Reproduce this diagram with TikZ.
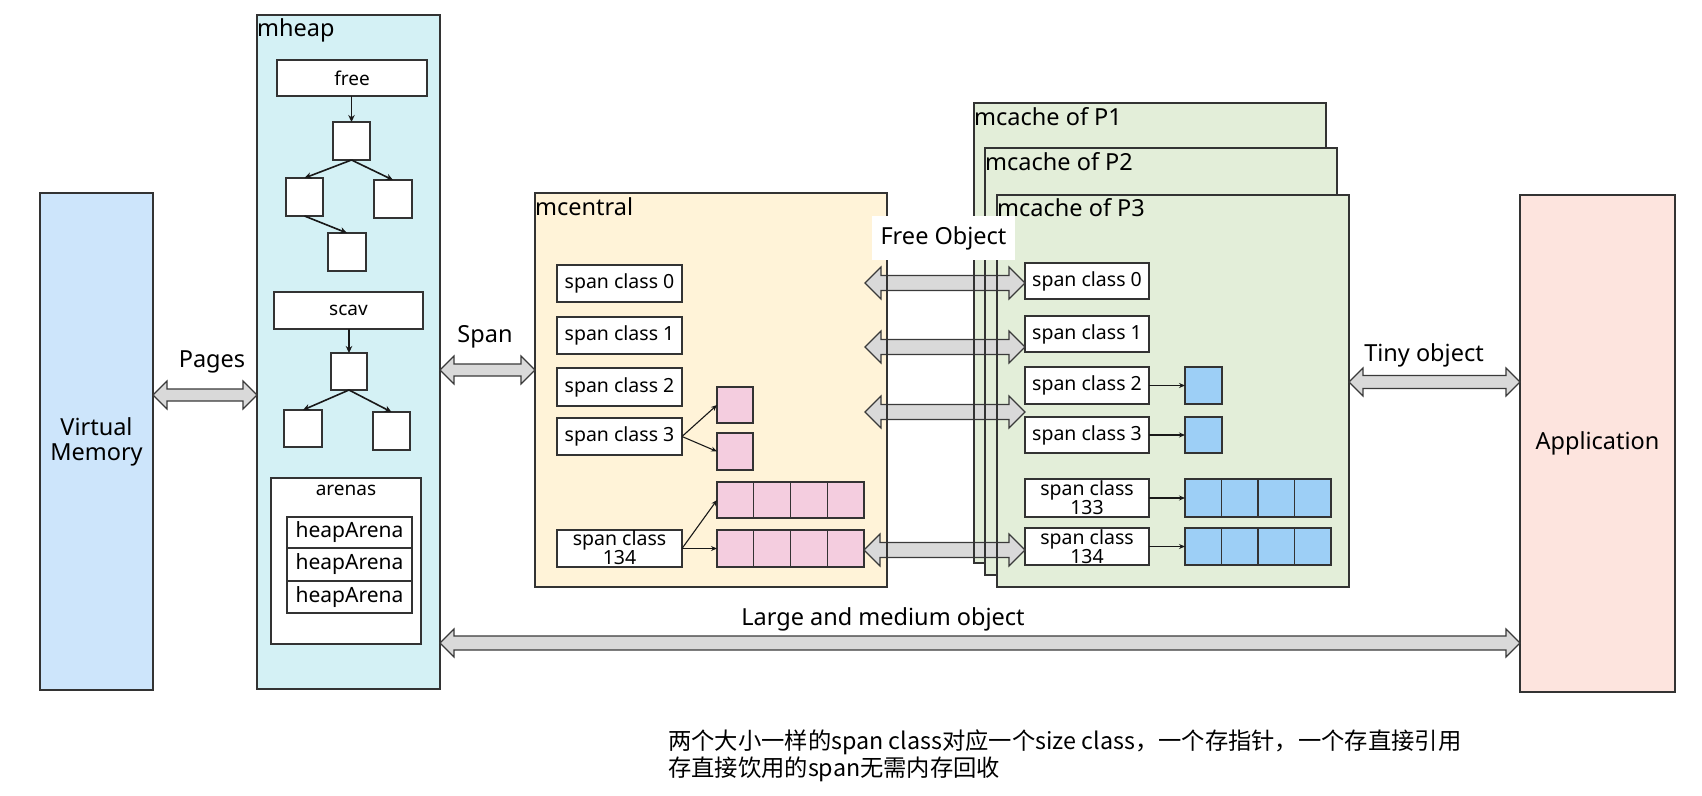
\documentclass[tikz,border=0pt]{standalone}
\usepackage{fontspec}
\setmainfont{Noto Sans}
\newfontfamily\cjk{Noto Sans CJK SC}
\usetikzlibrary{calc,arrows.meta}
\definecolor{vmc}{HTML}{CDE5FB}
\definecolor{mheapc}{HTML}{D4F1F5}
\definecolor{mcentc}{HTML}{FFF3D8}
\definecolor{mcachec}{HTML}{E3EED9}
\definecolor{appc}{HTML}{FDE4DE}
\definecolor{pinkc}{HTML}{F4CDDF}
\definecolor{bluec}{HTML}{9DCFF6}
\definecolor{lnc}{HTML}{333333}
\definecolor{arrowfill}{HTML}{D9D9D9}
\definecolor{arrowline}{HTML}{3A3A3A}
\newcommand\fsL{\fontsize{23.5}{26}\selectfont}
\newcommand\fsS{\fontsize{19.5}{21}\selectfont}
\newcommand\fsM{\fontsize{19}{21}\selectfont}
\newcommand\fsH{\fontsize{21}{23}\selectfont}
\newcommand\placebox[7]{\node[#1, minimum width={(#5-#3)*1pt}, minimum height={(#6-#4)*1pt}] (#2) at (#3,#4) {#7};}
% block double arrow: start, end, head length, head half height, shaft half height
\newcommand\dblarrow[5]{\draw[dbl] let \p1=(#1), \p2=(#2) in
  (\x1,\y1) -- (\x1+#3pt,\y1+#4pt) -- (\x1+#3pt,\y1+#5pt) -- (\x2-#3pt,\y1+#5pt) -- (\x2-#3pt,\y1+#4pt)
  -- (\x2,\y1) -- (\x2-#3pt,\y1-#4pt) -- (\x2-#3pt,\y1-#5pt) -- (\x1+#3pt,\y1-#5pt) -- (\x1+#3pt,\y1-#4pt) -- cycle;}
\tikzset{
  box/.style={draw=lnc, line width=1.3pt, inner sep=0pt, outer sep=0pt, anchor=north west},
  wbox/.style={box, fill=white, font=\fsS},
  pcell/.style={box, fill=pinkc},
  bcell/.style={box, fill=bluec},
  lbl/.style={font=\fsL, inner sep=1pt},
  tip/.style={draw=black!90, line width=1.6pt, -{Stealth[length=7pt,width=6.5pt]}},
  smalltip/.style={draw=black!90, line width=1.1pt, -{Stealth[length=6pt,width=5pt]}},
  edge/.style={draw=lnc, line width=1.3pt},
  dbl/.style={draw=arrowline, fill=arrowfill, line width=1.2pt, line join=miter},
}
\begin{document}
\begin{tikzpicture}[x=1pt,y=-1pt]
\useasboundingbox (0,0) rectangle (1702,795);
\fill[white] (0,0) rectangle (1702,795);

% ---------- Virtual memory
\placebox{box,fill=vmc,align=center,font=\fsL}{vm}{40}{193}{153}{690}{Virtual\\[-1pt]Memory}

% ---------- mheap
\placebox{box,fill=mheapc}{mheap}{257}{15}{440}{689}{}
\node[lbl,anchor=west] (mheapl) at (256,30) {mheap};
\placebox{wbox,font=\fsM}{free}{277}{60}{427}{96}{free}
\placebox{wbox}{t1}{333}{122}{370}{160}{}
\placebox{wbox}{t2}{286}{178}{323}{216}{}
\placebox{wbox}{t3}{374}{180}{412}{218}{}
\placebox{wbox}{t4}{328}{233}{366}{271}{}
\placebox{wbox,font=\fsM}{scav}{274}{292}{423}{329}{scav}
\placebox{wbox}{s1}{331}{353}{367}{390}{}
\placebox{wbox}{s2}{284}{410}{322}{447}{}
\placebox{wbox}{s3}{373}{412}{410}{450}{}
\draw[tip] (free.south -| t1.north) -- (t1.north);
\draw[tip] (t1.south) -- (t2.north);
\draw[tip] (t1.south) -- (t3.north);
\draw[tip] (t2.south) -- (t4.north);
\draw[tip] (scav.south -| s1.north) -- (s1.north);
\draw[tip] (s1.south) -- (s2.north);
\draw[tip] (s1.south) -- (s3.north);
\placebox{wbox}{arenas}{271}{478}{421}{644}{}
\node[font=\fsM] (arenasl) at (346,490) {arenas};
\placebox{wbox,font=\fsH}{ha1}{287}{517}{412}{548}{heapArena}
\placebox{wbox,font=\fsH}{ha2}{287}{548}{412}{581}{heapArena}
\placebox{wbox,font=\fsH}{ha3}{287}{581}{412}{613}{heapArena}

% ---------- mcentral
\placebox{box,fill=mcentc}{mcentral}{535}{193}{887}{587}{}
\node[lbl,anchor=west] (mcentrall) at (534,207) {mcentral};
\placebox{wbox}{m0}{557}{265}{682}{302}{span class 0}
\placebox{wbox}{m1}{557}{317}{682}{354}{span class 1}
\placebox{wbox}{m2}{557}{368}{682}{406}{span class 2}
\placebox{wbox}{m3}{557}{418}{682}{455}{span class 3}
\placebox{wbox}{m134}{557}{530}{682}{567}{}
\node[font=\fsS, align=center, inner sep=0pt] (m134l) at (619.5,548) {span class\\[-2pt]134};
\placebox{pcell}{p3a}{717}{387}{753}{423}{}
\placebox{pcell}{p3b}{717}{433}{753}{470}{}
\foreach \i in {1,...,4}{
  \pgfmathsetmacro\xa{717+(\i-1)*36.75}
  \placebox{pcell}{pa\i}{\xa}{482}{\xa+36.75}{518}{}
  \placebox{pcell}{pb\i}{\xa}{530}{\xa+36.75}{567}{}
}
\draw[smalltip] (m3.east) -- (p3a.west);
\draw[smalltip] (m3.east) -- (p3b.west);
\draw[smalltip] (m134.east) -- (pa1.west);
\draw[smalltip] (m134.east) -- (pb1.west);

% ---------- mcache
\placebox{box,fill=mcachec}{mc1}{974}{103}{1326}{563}{}
\placebox{box,fill=mcachec}{mc2}{985}{148}{1337}{575}{}
\placebox{box,fill=mcachec}{mc3}{997}{195}{1349}{587}{}
\node[lbl,anchor=west] (mc1l) at (973,117) {mcache of P1};
\node[lbl,anchor=west] (mc2l) at (984,162) {mcache of P2};
\node[lbl,anchor=west] (mc3l) at (996,208) {mcache of P3};
\placebox{wbox}{c0}{1025}{263}{1149}{299}{span class 0}
\placebox{wbox}{c1}{1025}{316}{1149}{352}{span class 1}
\placebox{wbox}{c2}{1025}{367}{1149}{404}{span class 2}
\placebox{wbox}{c3}{1025}{417}{1149}{453}{span class 3}
\placebox{wbox}{c133}{1025}{479}{1149}{517}{}
\placebox{wbox}{c134}{1025}{528}{1149}{565}{}
\node[font=\fsS, align=center, inner sep=0pt] (c133l) at (1087,498) {span class\\[-2pt]133};
\node[font=\fsS, align=center, inner sep=0pt] (c134l) at (1087,547) {span class\\[-2pt]134};
\placebox{bcell}{b2}{1185}{367}{1222}{404}{}
\placebox{bcell}{b3}{1185}{417}{1222}{453}{}
\foreach \i in {1,...,4}{
  \pgfmathsetmacro\xa{1185+(\i-1)*36.5}
  \placebox{bcell}{ba\i}{\xa}{479}{\xa+36.5}{517}{}
  \placebox{bcell}{bb\i}{\xa}{528}{\xa+36.5}{565}{}
}
\draw[smalltip] (c2.east) -- (b2.west);
\draw[smalltip] (c3.east) -- (b3.west);
\draw[smalltip] (c133.east) -- (ba1.west);
\draw[smalltip] (c134.east) -- (bb1.west);

% ---------- Application
\placebox{box,fill=appc,font=\fsL}{app}{1520}{195}{1675}{692}{Application}

% ---------- block arrows
\coordinate (yPages) at (0,395);
\coordinate (ySpan) at (0,370);
\coordinate (yTiny) at (0,382);
\coordinate (yLarge) at (0,643);
\coordinate (foA) at (865,283);
\coordinate (foB) at (865,347);
\coordinate (foC) at (865,412);
\coordinate (foD) at (0,550);
\dblarrow{vm.east |- yPages}{mheap.west |- yPages}{14}{14}{6}
\dblarrow{mheap.east |- ySpan}{mcentral.west |- ySpan}{14}{14}{6}
\dblarrow{foA}{c0.west |- foA}{16}{16}{7.5}
\dblarrow{foB}{c1.west |- foB}{16}{16}{7.5}
\dblarrow{foC}{c2.west |- foC}{16}{16}{7.5}
\dblarrow{pb4.east |- foD}{c134.west |- foD}{16}{16}{7.5}
\dblarrow{mc3.east |- yTiny}{app.west |- yTiny}{14}{14}{6.5}
\dblarrow{mheap.east |- yLarge}{app.west |- yLarge}{14}{14}{7}

% box edges drawn over the arrows
\draw[edge] (mcentral.north east) -- (mcentral.south east);
\draw[edge] (mc1.north west) -- (mc1.south west);
\draw[edge] (mc2.north west) -- (mc2.south west);
\draw[edge] (mc3.north west) -- (mc3.south west);

% ---------- labels
\node[fill=white, minimum width=143pt, minimum height=44pt, inner sep=0pt, font=\fsL] (fol) at (943.5,238) {Free Object};
\node[lbl] (pagesl) at (212,362) {Pages};
\node[lbl] (spanl) at (485,337) {Span};
\node[lbl] (tinyl) at (1424,355) {Tiny object};
\node[lbl] (largel) at (883,619) {Large and medium object};
\node[font={\cjk\fontsize{23.3}{27}\selectfont}, align=left, anchor=west, inner sep=0pt] (note) at (668,756)
  {两个大小一样的span class对应一个size class，一个存指针，一个存直接引用\\存直接饮用的span无需内存回收};
\end{tikzpicture}
\end{document}
